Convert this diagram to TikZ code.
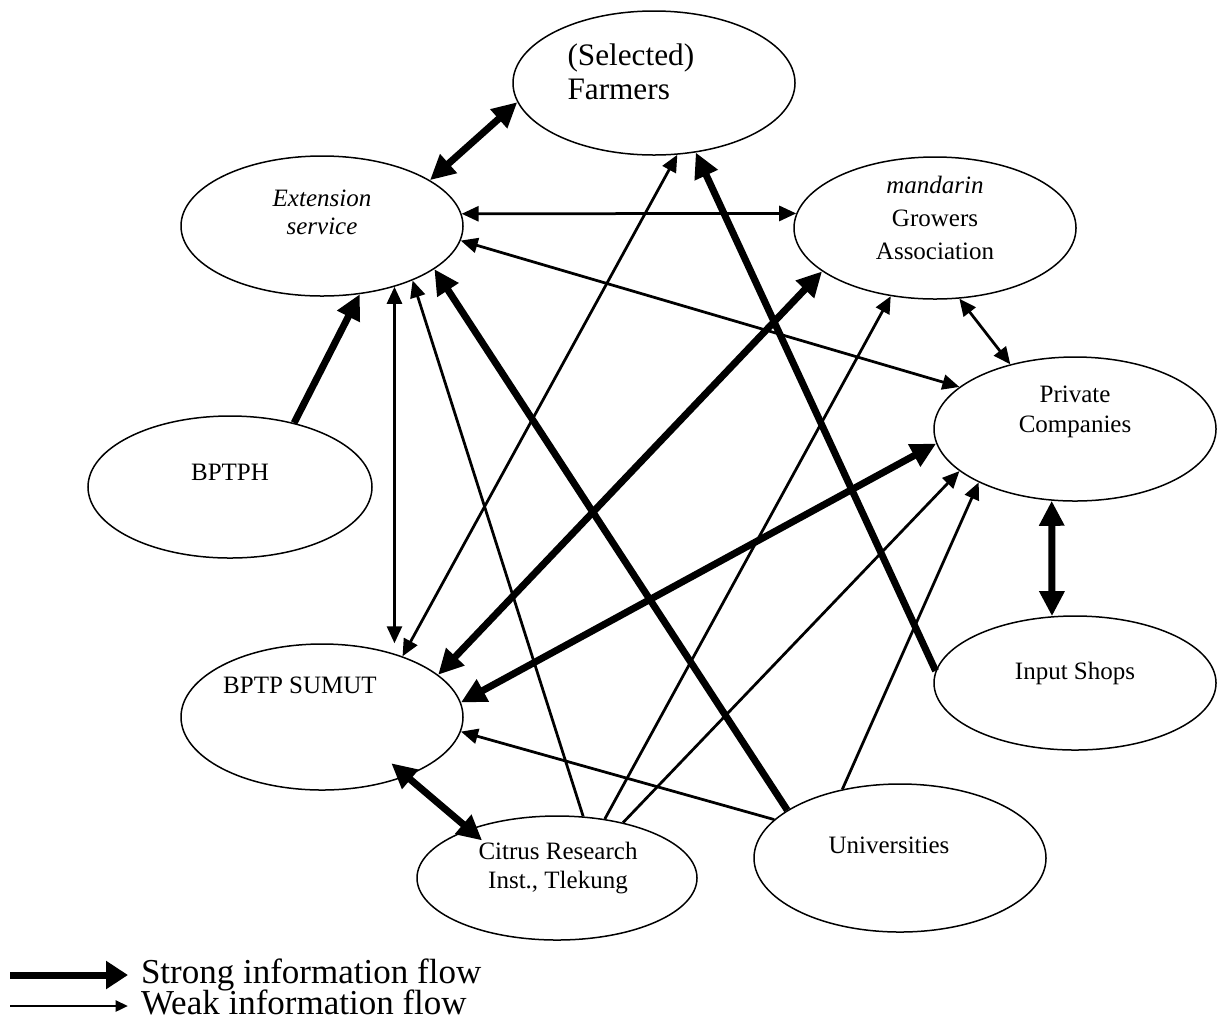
\documentclass[tikz,border=0pt]{standalone}
\usepackage{fontspec}
\setmainfont{Liberation Serif}
\usetikzlibrary{shapes.geometric,arrows.meta}

\begin{document}
\begin{tikzpicture}[x=0.4pt, y=-0.4pt,
	blob/.style={draw,ellipse,line width=0.6pt,inner sep=0pt,minimum width=112.8pt,minimum height=56.8pt},
	lbl/.style={align=center,inner sep=0pt,font=\fontsize{10}{12}\selectfont},
	strong/.style={line width=2.8pt,>={Triangle[length=10pt,width=9.6pt]}},
	weak/.style={line width=1.1pt,>={Triangle[length=6.8pt,width=6pt]}},
	legtxt/.style={anchor=west,inner xsep=5pt,inner ysep=0pt,text height=8.5pt,text depth=1.5pt,font=\fontsize{14}{16}\selectfont}]
	\useasboundingbox (0,0) rectangle (1217,1028);
	\node[blob,minimum height=57.6pt] (farm) at (654,83) {};
	\node[blob,minimum height=56pt] (ext) at (322,226) {};
	\node[blob] (grow) at (935,228) {};
	\node[blob,minimum height=57.6pt] (priv) at (1075,429) {};
	\node[blob,minimum width=113.6pt] (bptph) at (230,487) {};
	\node[blob,minimum height=53.6pt] (inp) at (1075,683) {};
	\node[blob,minimum height=58.4pt] (sumut) at (322,717) {};
	\node[blob,minimum width=112pt,minimum height=49.6pt] (cri) at (557,878) {};
	\node[blob,minimum width=116.8pt,minimum height=59.2pt] (univ) at (900,858) {};
	\node[lbl,align=left,anchor=west,font=\fontsize{12.5}{13.6}\selectfont] (farm-t) at (567,72) {(Selected)\\Farmers};
	\node[lbl,font=\itshape\fontsize{10}{11.2}\selectfont] (ext-t) at (322,212) {Extension\\service};
	\node[lbl,font=\fontsize{10}{13.2}\selectfont] (grow-t) at (935,218) {\textit{mandarin}\\Growers\\Association};
	\node[lbl] (priv-t) at (1075,412) {Private\\Companies};
	\node[lbl] (bptph-t) at (230,472) {BPTPH};
	\node[lbl] (inp-t) at (1075,673) {Input Shops};
	\node[lbl] (sumut-t) at (300,685) {BPTP SUMUT};
	\node[lbl,font=\fontsize{10}{11.6}\selectfont] (cri-t) at (558,868) {Citrus Research\\Inst., Tlekung};
	\node[lbl] (univ-t) at (889,845) {Universities};
	\draw[strong,<->] (farm.188) -- (ext.23);
	\draw[weak,<->] (ext.5) -- (grow.174);
	\draw[weak,<->] (ext.-6) -- (priv.160);
	\draw[strong,->] (bptph.45) -- (ext.-61);
	\draw[weak,<->] (ext.-40) -- (ext.-40 |- sumut.north);
	\draw[weak,<->] (farm.-72) -- (sumut.37);
	\draw[weak,->] (cri.67) -- (ext.-31);
	\draw[strong,->] (univ.157) -- (ext.-21);
	\draw[strong,->] (inp.175) -- (farm.-59);
	\draw[strong,<->] (grow.201) -- (sumut.20);
	\draw[strong,<->] (priv.186) -- (sumut.6);
	\draw[weak,->] (univ.163) -- (sumut.-6);
	\draw[strong,<->,shorten <=-8pt,shorten >=-7pt] (sumut.-35) -- (cri.151);
	\draw[weak,->] (cri.51) -- (grow.237);
	\draw[weak,->] (cri.40) -- (priv.200);
	\draw[weak,->] (univ.130) -- (priv.209);
	\draw[weak,<->] (grow.-71) -- (priv.135);
	\draw[strong,<->] (priv.252) -- (inp.109);
	\coordinate (strongfrom) at (10,975);
	\coordinate (weakfrom) at (10,1006);
	\node[legtxt] (strongtxt) at (128,975) {Strong information flow};
	\node[legtxt] (weaktxt) at (128,1006) {Weak information flow};
	\draw[strong,-{Triangle[length=8.8pt,width=10.8pt]}] (strongfrom) -- (strongtxt.west);
	\draw[weak,-{Triangle[length=5pt,width=4.4pt]}] (weakfrom) -- (weaktxt.west);
\end{tikzpicture}
\end{document}
